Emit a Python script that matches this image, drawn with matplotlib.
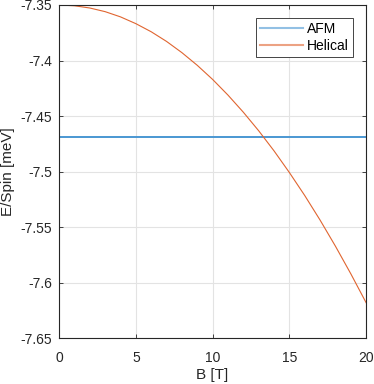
import matplotlib
matplotlib.use("Agg")
import matplotlib.pyplot as plt

# Field values (T)
B = list(range(0, 21))

# Energy per spin (meV)
E_afm = [-7.469] * len(B)
E_helical = [-7.3500, -7.3507, -7.3527, -7.3560, -7.3607, -7.3668, -7.3741,
             -7.3828, -7.3929, -7.4043, -7.4170, -7.4311, -7.4465, -7.4632,
             -7.4813, -7.5008, -7.5215, -7.5436, -7.5671, -7.5919, -7.6180]

plt.rcParams['font.family'] = ['Liberation Sans', 'DejaVu Sans']

fig = plt.figure(figsize=(3.74, 3.84), dpi=100)
ax = fig.add_axes([0.158, 0.119, 0.821, 0.868])

ax.plot(B, E_afm, label="AFM", color='#4a97d2', linewidth=1.4)
ax.plot(B, E_helical, label="Helical", color='#E06530', linewidth=0.8)

ax.set_xlim(0, 20)
ax.set_ylim(-7.65, -7.35)
ax.set_xticks([0, 5, 10, 15, 20])
ax.set_yticks([-7.65, -7.6, -7.55, -7.5, -7.45, -7.4, -7.35])
ax.set_yticklabels(['-7.65', '-7.6', '-7.55', '-7.5', '-7.45', '-7.4', '-7.35'])
ax.grid(True, color='#e3e3e3', linewidth=0.8)
ax.set_axisbelow(True)
ax.tick_params(direction='in', length=3, width=0.6, colors='#262626', labelsize=10,
               top=True, right=True, labeltop=False, labelright=False)
ax.tick_params(axis='x', pad=9)
ax.tick_params(axis='y', pad=5)
for s in ax.spines.values():
    s.set_color('#262626')
    s.set_linewidth(0.8)

ax.set_xlabel('B [T]', fontsize=11, color='#262626', labelpad=2)
ax.set_ylabel('E/Spin [meV]', fontsize=11, color='#262626', labelpad=4)

leg = ax.legend(loc='upper right', fontsize=10, fancybox=False, framealpha=1,
                edgecolor='#262626', handlelength=3.1, borderpad=0.3,
                labelspacing=0.2, handletextpad=0.3, borderaxespad=0.95)
leg.get_frame().set_linewidth(0.6)
for h in leg.legend_handles:
    h.set_alpha(0.6)
    h.set_linewidth(1.5)

fig.savefig("out.png", dpi=100)
